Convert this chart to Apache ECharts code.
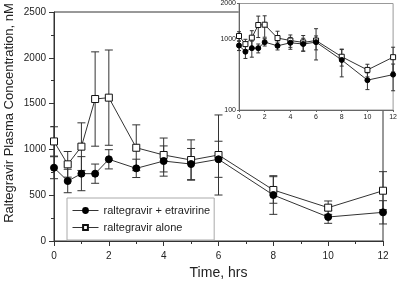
<!DOCTYPE html>
<html>
<head>
<meta charset="utf-8">
<script src="https://cdn.jsdelivr.net/npm/echarts@6/dist/echarts.min.js"></script>
<style>
  html, body { margin: 0; padding: 0; background: #fff; }
  #chart { width: 400px; height: 285px; }
</style>
</head>
<body>
<div id="chart"></div>
<script>
// sampling times (hrs)
var times = [0, 0.5, 1, 1.5, 2, 3, 4, 5, 6, 8, 10, 12];
// raltegravir + etravirine, mean and SD (nM)
var combo = [800, 655, 735, 735, 892, 793, 873, 840, 892, 502, 262, 313];
var comboErr = [120, 128, 186, 105, 105, 100, 165, 170, 197, 211, 69, 127];
// raltegravir alone
var alone = [1087, 837, 1030, 1550, 1565, 1018, 939, 884, 939, 557, 364, 549];
var aloneErr = [160, 140, 260, 515, 520, 250, 185, 220, 437, 145, 73, 208];

var FONT = "Liberation Sans, Arial, sans-serif";
var INK = "#333";

function pts(vals) {
  return times.map(function (t, i) { return [t, vals[i]]; });
}
function bars(vals, errs) {
  return times.map(function (t, i) { return [t, vals[i] - errs[i], vals[i] + errs[i]]; });
}

function errRender(cap) {
  return function (params, api) {
    var x = api.value(0);
    var top = api.coord([x, api.value(2)]);
    var bot = api.coord([x, api.value(1)]);
    var st = { stroke: INK, lineWidth: 1 };
    return {
      type: "group",
      children: [
        { type: "line", shape: { x1: top[0], y1: top[1], x2: bot[0], y2: bot[1] }, style: st },
        { type: "line", shape: { x1: top[0] - cap, y1: top[1], x2: top[0] + cap, y2: top[1] }, style: st },
        { type: "line", shape: { x1: bot[0] - cap, y1: bot[1], x2: bot[0] + cap, y2: bot[1] }, style: st }
      ]
    };
  };
}

var chart = echarts.init(document.getElementById("chart"));

chart.setOption({
  animation: false,
  textStyle: { fontFamily: FONT },
  grid: [
    { left: 54, top: 12, right: 17, bottom: 44, show: true, borderColor: INK, borderWidth: 1, z: 0 },
    { left: 239, top: 2, width: 157, height: 108, show: true, borderColor: "#999", borderWidth: 1,
      backgroundColor: "#fff", z: 3 }
  ],
  legend: {
    left: 67, top: 198, orient: "vertical",
    padding: [7, 4, 7, 5], itemGap: 6, itemWidth: 26, itemHeight: 6,
    borderColor: "#aaa", borderWidth: 1, backgroundColor: "#fff",
    lineStyle: { width: 1 },
    textStyle: { fontSize: 11, color: "#222", fontFamily: FONT },
    data: ["raltegravir + etravirine", "raltegravir alone"]
  },
  xAxis: [
    {
      gridIndex: 0, type: "value", min: 0, max: 12, interval: 2,
      name: "Time, hrs", nameLocation: "middle", nameGap: 22,
      nameTextStyle: { fontSize: 14, color: "#222", fontFamily: FONT },
      axisLine: { lineStyle: { color: INK } },
      axisTick: { length: 5, lineStyle: { color: INK } },
      minorTick: { show: true, splitNumber: 2, length: 3, lineStyle: { color: INK } },
      axisLabel: { fontSize: 10, color: "#222", margin: 10 },
      splitLine: { show: false }
    },
    {
      gridIndex: 1, type: "value", min: 0, max: 12, interval: 2, z: 5,
      axisLine: { lineStyle: { color: "#666" } },
      axisTick: { length: 2, lineStyle: { color: "#666" } },
      axisLabel: { fontSize: 7, color: "#222", margin: 4 },
      splitLine: { show: false }
    }
  ],
  yAxis: [
    {
      gridIndex: 0, type: "value", min: 0, max: 2500, interval: 500,
      axisLine: { show: true, lineStyle: { color: INK } },
      axisTick: { show: true, length: 5, lineStyle: { color: INK } },
      minorTick: { show: true, splitNumber: 2, length: 3, lineStyle: { color: INK } },
      axisLabel: { fontSize: 10, color: "#222", margin: 8,
        formatter: function (v) { return String(v); } },
      splitLine: { show: false }
    },
    {
      gridIndex: 1, type: "log", logBase: 10, min: 100, max: 3100, z: 5,
      axisLine: { show: true, lineStyle: { color: "#666" } },
      axisTick: { show: true, length: 2, lineStyle: { color: "#666" } },
      axisLabel: {
        fontSize: 7, color: "#222", margin: 3, showMaxLabel: true,
        formatter: function (v) { return v > 1500 ? "2000" : String(Math.round(v)); }
      },
      splitLine: { show: false }
    }
  ],
  graphic: [
    {
      type: "text", x: 9, y: 113, rotation: Math.PI / 2,
      style: {
        text: "Raltegravir Plasma Concentration, nM", fontSize: 13, fill: "#222",
        fontFamily: FONT, align: "center", verticalAlign: "middle"
      }
    }
  ],
  series: [
    { type: "custom", xAxisIndex: 0, yAxisIndex: 0, z: 1, silent: true,
      renderItem: errRender(4), encode: { x: 0, y: [1, 2] }, data: bars(alone, aloneErr) },
    { type: "custom", xAxisIndex: 0, yAxisIndex: 0, z: 1, silent: true,
      renderItem: errRender(4), encode: { x: 0, y: [1, 2] }, data: bars(combo, comboErr) },
    {
      name: "raltegravir alone", type: "line", xAxisIndex: 0, yAxisIndex: 0, z: 2,
      symbol: "rect", symbolSize: 7,
      lineStyle: { color: INK, width: 1 },
      itemStyle: { color: "#fff", borderColor: "#111", borderWidth: 1 },
      data: pts(alone)
    },
    {
      name: "raltegravir + etravirine", type: "line", xAxisIndex: 0, yAxisIndex: 0, z: 3,
      symbol: "circle", symbolSize: 7,
      lineStyle: { color: INK, width: 1 },
      itemStyle: { color: "#000", borderColor: "#000", borderWidth: 1 },
      data: pts(combo)
    },
    // inset, log scale
    { type: "custom", xAxisIndex: 1, yAxisIndex: 1, z: 6, silent: true,
      renderItem: errRender(2), encode: { x: 0, y: [1, 2] }, data: bars(alone, aloneErr) },
    { type: "custom", xAxisIndex: 1, yAxisIndex: 1, z: 6, silent: true,
      renderItem: errRender(2), encode: { x: 0, y: [1, 2] }, data: bars(combo, comboErr) },
    {
      name: "raltegravir alone", type: "line", xAxisIndex: 1, yAxisIndex: 1, z: 7,
      symbol: "rect", symbolSize: 5,
      lineStyle: { color: INK, width: 1 },
      itemStyle: { color: "#fff", borderColor: "#111", borderWidth: 1 },
      data: pts(alone)
    },
    {
      name: "raltegravir + etravirine", type: "line", xAxisIndex: 1, yAxisIndex: 1, z: 8,
      symbol: "circle", symbolSize: 5,
      lineStyle: { color: INK, width: 1 },
      itemStyle: { color: "#000", borderColor: "#000", borderWidth: 1 },
      data: pts(combo)
    }
  ]
});
</script>
</body>
</html>
